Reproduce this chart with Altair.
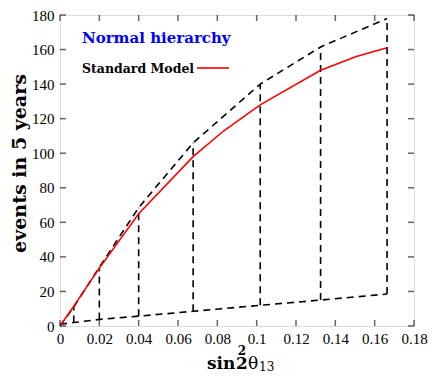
import altair as alt
import pandas as pd

# sample points of sin^2(2 theta13)
band_x = [0.0, 0.007, 0.020, 0.040, 0.0677, 0.1018, 0.1325, 0.1663]
band_upper = [0.0, 11, 34, 68.5, 106, 140, 161.5, 178]
band_lower = [1.0, 2.0, 3.8, 5.7, 8.5, 12.0, 15.0, 18.5]

sm_x = [0.0, 0.007, 0.020, 0.040, 0.0677, 0.0833, 0.1018, 0.1325, 0.1507, 0.1663]
sm_y = [0.0, 11.5, 33.5, 65, 98, 113, 128, 148, 156, 161]

x_ticks = [0.0, 0.02, 0.04, 0.06, 0.08, 0.1, 0.12, 0.14, 0.16, 0.18]
y_ticks = [0, 20, 40, 60, 80, 100, 120, 140, 160, 180]

y_title = "events in 5 years"
x_title_parts = ["sin", "2", "2", "θ", "13"]  # sin, superscript 2, 2, theta, subscript 13
panel_title = "Normal hierarchy"
legend_label = "Standard Model"

W, H = 354, 311

band = pd.DataFrame({"x": band_x, "upper": band_upper, "lower": band_lower})
verts = band[band["x"] > 0]
sm = pd.DataFrame({"x": sm_x, "y": sm_y})
xt = pd.DataFrame({"v": x_ticks})
yt = pd.DataFrame({"v": y_ticks})

xscale = alt.Scale(domain=[0, 0.18], nice=False, zero=False)
yscale = alt.Scale(domain=[0, 180], nice=False, zero=False)

xaxis = alt.Axis(values=x_ticks, format="~g", ticks=False, domain=False, grid=False,
                 labelFont="Liberation Serif", labelFontSize=15, labelColor="black",
                 labelPadding=5, labelFlush=False, labelOverlap=False, title=None)
yaxis = alt.Axis(values=y_ticks, ticks=False, domain=False, grid=False,
                 labelFont="Liberation Serif", labelFontSize=15, labelColor="black",
                 labelPadding=6, labelFlush=False, labelOverlap=False, title=None)

dash = [7, 5]

upper_line = alt.Chart(band).mark_line(color="black", strokeWidth=1.6, strokeDash=dash).encode(
    x=alt.X("x:Q", scale=xscale, axis=xaxis),
    y=alt.Y("upper:Q", scale=yscale, axis=yaxis),
)
lower_line = alt.Chart(band).mark_line(color="black", strokeWidth=1.6, strokeDash=dash).encode(
    x=alt.X("x:Q", scale=xscale, axis=xaxis),
    y=alt.Y("lower:Q", scale=yscale, axis=yaxis),
)
vert = alt.Chart(verts).mark_rule(color="black", strokeWidth=1.6, strokeDash=dash).encode(
    x=alt.X("x:Q", scale=xscale, axis=xaxis),
    y=alt.Y("lower:Q", scale=yscale, axis=yaxis),
    y2="upper:Q",
)
sm_line = alt.Chart(sm).mark_line(color="#ff0000", strokeWidth=1.6).encode(
    x=alt.X("x:Q", scale=xscale, axis=xaxis),
    y=alt.Y("y:Q", scale=yscale, axis=yaxis),
)

tick_style = dict(color="#222222", thickness=1.5, size=6)
bt = alt.Chart(xt).mark_tick(orient="vertical", **tick_style).encode(
    x=alt.X("v:Q", scale=xscale, axis=xaxis), y=alt.value(H - 3))
tt = alt.Chart(xt).mark_tick(orient="vertical", **tick_style).encode(
    x=alt.X("v:Q", scale=xscale, axis=xaxis), y=alt.value(3))
lt = alt.Chart(yt).mark_tick(orient="horizontal", **tick_style).encode(
    y=alt.Y("v:Q", scale=yscale, axis=yaxis), x=alt.value(3))
rt = alt.Chart(yt).mark_tick(orient="horizontal", **tick_style).encode(
    y=alt.Y("v:Q", scale=yscale, axis=yaxis), x=alt.value(W - 3))


def label(text, x, y, size, weight="bold", font="DejaVu Serif", color="black",
          align="left", angle=0):
    kw = dict(align=align, baseline="alphabetic", font=font, fontSize=size,
              fontWeight=weight, color=color)
    if angle:
        kw["angle"] = angle
    return alt.Chart(pd.DataFrame({"t": [text]})).mark_text(**kw).encode(
        text="t:N", x=alt.value(x), y=alt.value(y))


title_txt = label(panel_title, 22, 28, 15, color="#0000ff")
legend_txt = label(legend_label, 22, 58, 12.5)
legend_line = alt.Chart(pd.DataFrame({"a": [0]})).mark_rule(color="#ff0000", strokeWidth=1.6).encode(
    x=alt.value(137), x2=alt.value(169), y=alt.value(53))

ytitle = label(y_title, -34, 148.5, 19, align="center", angle=270)

xt_sin = label(x_title_parts[0], 147, 354, 17)
xt_sup = label(x_title_parts[1], 182, 340, 12, align="center")
xt_two = label(x_title_parts[2], 176, 354, 17)
xt_theta = label(x_title_parts[3], 188, 354, 17, weight="normal")
xt_sub = label(x_title_parts[4], 199, 356, 12, weight="normal")

chart = alt.layer(
    vert, upper_line, lower_line, sm_line, bt, tt, lt, rt, title_txt, legend_txt, legend_line,
    ytitle, xt_sin, xt_sup, xt_two, xt_theta, xt_sub
).properties(
    width=W, height=H,
    autosize=alt.AutoSizeParams(type="none"),
    padding={"left": 52, "top": 7, "right": 14, "bottom": 48},
).configure_view(stroke="black", strokeWidth=2).configure_axis(
    labelOverlap=False
).configure(background="white")

chart.save("out.html", embed_options={"renderer": "svg", "actions": False})
